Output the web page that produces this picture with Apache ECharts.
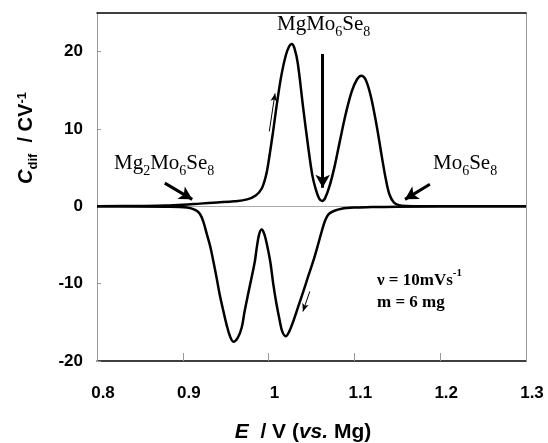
<!DOCTYPE html>
<html>
<head>
<meta charset="utf-8">
<script src="https://cdn.jsdelivr.net/npm/echarts@6/dist/echarts.min.js"></script>
<style>
  html, body { margin: 0; padding: 0; background: #fff; }
  #chart { width: 548px; height: 443px; }
</style>
</head>
<body>
<div id="chart"></div>
<script>
// Differential capacity vs. potential, anodic (upper) and cathodic (lower) sweeps
var anodicE = [0.80, 0.85, 0.88, 0.90, 0.92, 0.94, 0.96, 0.975, 0.985, 0.992, 0.997, 1.000, 1.005,
  1.010, 1.015, 1.020, 1.024, 1.027, 1.030, 1.034, 1.040, 1.046, 1.051, 1.055, 1.059, 1.0625,
  1.066, 1.071, 1.077, 1.083, 1.090, 1.097, 1.103, 1.108, 1.113, 1.119, 1.126, 1.132, 1.137,
  1.141, 1.146, 1.152, 1.16, 1.20, 1.30];
var anodicC = [0.0, 0.05, 0.1, 0.2, 0.35, 0.5, 0.65, 0.9, 1.4, 2.3, 4.0, 5.8, 9.5,
  13.5, 17.0, 19.5, 20.7, 21.0, 20.5, 18.5, 13.0, 7.8, 4.0, 2.2, 1.0, 0.7,
  1.1, 2.6, 5.2, 8.4, 12.0, 14.9, 16.4, 16.9, 16.4, 14.3, 10.4, 6.4, 3.3,
  1.5, 0.5, 0.15, 0.05, 0.0, 0.0];

var cathodicE = [1.30, 1.20, 1.15, 1.12, 1.100, 1.085, 1.076, 1.070, 1.066, 1.062, 1.057, 1.052,
  1.046, 1.0405, 1.035, 1.029, 1.024, 1.020, 1.016, 1.013, 1.009, 1.0055, 1.002, 0.998, 0.995,
  0.992, 0.989, 0.986, 0.984, 0.980, 0.976, 0.972, 0.9686, 0.964, 0.959, 0.955, 0.951, 0.947,
  0.943, 0.9395, 0.9356, 0.932, 0.928, 0.924, 0.920, 0.915, 0.905, 0.88, 0.80];
var cathodicC = [0, 0, -0.05, -0.1, -0.15, -0.3, -0.6, -1.0, -1.8, -3.2, -5.2, -7.1,
  -9.1, -11.0, -12.8, -14.8, -16.2, -16.8, -16.2, -14.8, -12.5, -10.1, -7.2, -4.9, -3.6,
  -3.0, -3.6, -5.5, -7.1, -9.3, -11.4, -13.6, -15.7, -17.0, -17.5, -16.8, -15.3, -13.4,
  -11.4, -9.3, -7.1, -5.2, -3.6, -2.0, -1.0, -0.5, -0.15, -0.05, 0];

var xTicks = [0.8, 0.9, 1.0, 1.1, 1.2, 1.3];
var yTicks = [-20, -10, 0, 10, 20];

// Annotation arrows in data coordinates: [E0, C0, E1, C1, width]
var arrows = [
  [1.063, 19.7, 1.063, 2.4, 3],
  [0.879, 3.0, 0.911, 0.9, 3],
  [1.188, 2.85, 1.159, 0.9, 3],
  [1.0008, 9.7, 1.0075, 14.6, 1],
  [1.048, -11.0, 1.040, -13.6, 1]
];

function pairs(xs, ys) {
  return xs.map(function (x, i) { return [x, ys[i]]; });
}

var chart = echarts.init(document.getElementById('chart'), null, { renderer: 'canvas' });

var tickFont = { fontFamily: 'Liberation Sans', fontWeight: 'bold', fontSize: 17, color: '#000' };
var serif = 'Liberation Serif';

var arrowLines = arrows.map(function (a) {
  var big = a[4] > 1;
  return [
    { coord: [a[0], a[1]], symbol: 'none' },
    {
      coord: [a[2], a[3]], symbol: 'arrow',
      symbolSize: big ? [11, 13] : [5, 8],
      lineStyle: { width: a[4], color: '#000', type: 'solid' }
    }
  ];
});

chart.setOption({
  animation: false,
  grid: { left: 97, right: 22, top: 13, bottom: 82 },
  xAxis: [{
    type: 'value', min: 0.8, max: 1.3, interval: 0.1,
    axisLine: { onZero: false, lineStyle: { color: '#000', width: 1.5 } },
    axisTick: { inside: true, length: 8, lineStyle: { color: '#999' } },
    splitLine: { show: false },
    axisLabel: Object.assign({ margin: 24, padding: [0, 0, 0, 12],
      formatter: function (v) { var r = Math.round(v * 10) / 10; return xTicks.indexOf(r) >= 0 ? String(r) : ''; } }, tickFont)
  }, {
    type: 'value', position: 'top', min: 0.8, max: 1.3,
    axisLine: { onZero: false, lineStyle: { color: '#000', width: 1.5 } },
    axisTick: { show: false }, axisLabel: { show: false }, splitLine: { show: false }
  }],
  yAxis: [{
    type: 'value', min: -20, max: 25, interval: 10,
    axisLine: { show: true, onZero: false, lineStyle: { color: '#999', width: 1 } },
    axisTick: { inside: true, length: 4, lineStyle: { color: '#999' } },
    splitLine: { show: false },
    axisLabel: Object.assign({ margin: 14, showMaxLabel: false,
      formatter: function (v) { return yTicks.indexOf(v) >= 0 ? String(v) : ''; } }, tickFont)
  }, {
    type: 'value', position: 'right', min: -20, max: 25,
    axisLine: { show: true, onZero: false, lineStyle: { color: '#999', width: 1 } },
    axisTick: { show: false }, axisLabel: { show: false }, splitLine: { show: false }
  }],
  series: [{
    type: 'line', name: 'anodic', data: pairs(anodicE, anodicC),
    showSymbol: false, smooth: 0.35, z: 3,
    lineStyle: { color: '#000', width: 2.5 },
    markLine: {
      silent: true, symbol: 'none', z: 1,
      label: { show: false },
      lineStyle: { color: '#aaa', width: 1, type: 'solid' },
      data: [{ yAxis: 0 }]
    }
  }, {
    type: 'line', name: 'cathodic', data: pairs(cathodicE, cathodicC),
    showSymbol: false, smooth: 0.35, z: 3,
    lineStyle: { color: '#000', width: 2.5 },
    markLine: {
      silent: true, z: 4, label: { show: false },
      lineStyle: { color: '#000', type: 'solid' },
      data: arrowLines
    }
  }],
  graphic: [{
    type: 'text', left: 277, top: 14,
    style: {
      text: '{m|MgMo}{s|6}{m|Se}{s|8}',
      rich: {
        m: { fontFamily: serif, fontSize: 21, color: '#000', verticalAlign: 'bottom', padding: [0, 0, 4, 0] },
        s: { fontFamily: serif, fontSize: 14, color: '#000', verticalAlign: 'bottom' }
      }
    }
  }, {
    type: 'text', left: 114, top: 153,
    style: {
      text: '{m|Mg}{s|2}{m|Mo}{s|6}{m|Se}{s|8}',
      rich: {
        m: { fontFamily: serif, fontSize: 21, color: '#000', verticalAlign: 'bottom', padding: [0, 0, 4, 0] },
        s: { fontFamily: serif, fontSize: 14, color: '#000', verticalAlign: 'bottom' }
      }
    }
  }, {
    type: 'text', left: 433, top: 153,
    style: {
      text: '{m|Mo}{s|6}{m|Se}{s|8}',
      rich: {
        m: { fontFamily: serif, fontSize: 21, color: '#000', verticalAlign: 'bottom', padding: [0, 0, 4, 0] },
        s: { fontFamily: serif, fontSize: 14, color: '#000', verticalAlign: 'bottom' }
      }
    }
  }, {
    type: 'text', left: 377, top: 268,
    style: {
      text: '{m|ν = 10mVs}{p|-1}\n{m|m = 6 mg}',
      rich: {
        m: { fontFamily: serif, fontWeight: 'bold', fontSize: 17, color: '#000', verticalAlign: 'top', padding: [4, 0, 0, 0], lineHeight: 22 },
        p: { fontFamily: serif, fontWeight: 'bold', fontSize: 11, color: '#000', verticalAlign: 'top', lineHeight: 22 }
      }
    }
  }, {
    type: 'text', x: 303, y: 432,
    style: {
      text: '{i|E}{b|  / V (}{i|vs.}{b| Mg)}',
      textAlign: 'center', textVerticalAlign: 'middle',
      rich: {
        i: { fontFamily: 'Liberation Sans', fontWeight: 'bold', fontStyle: 'italic', fontSize: 21, color: '#000' },
        b: { fontFamily: 'Liberation Sans', fontWeight: 'bold', fontSize: 21, color: '#000' }
      }
    }
  }, {
    type: 'text', x: 28, y: 138, rotation: Math.PI / 2,
    style: {
      text: '{i|C}{s|dif}{b|  / CV}{p|-1}',
      textAlign: 'center', textVerticalAlign: 'middle',
      rich: {
        i: { fontFamily: 'Liberation Sans', fontWeight: 'bold', fontStyle: 'italic', fontSize: 20, color: '#000', verticalAlign: 'bottom', padding: [0, 0, 4, 0] },
        s: { fontFamily: 'Liberation Sans', fontWeight: 'bold', fontSize: 13, color: '#000', verticalAlign: 'bottom' },
        b: { fontFamily: 'Liberation Sans', fontWeight: 'bold', fontSize: 20, color: '#000', verticalAlign: 'bottom', padding: [0, 0, 4, 0] },
        p: { fontFamily: 'Liberation Sans', fontWeight: 'bold', fontSize: 13, color: '#000', verticalAlign: 'top' }
      }
    }
  }]
});
</script>
</body>
</html>
